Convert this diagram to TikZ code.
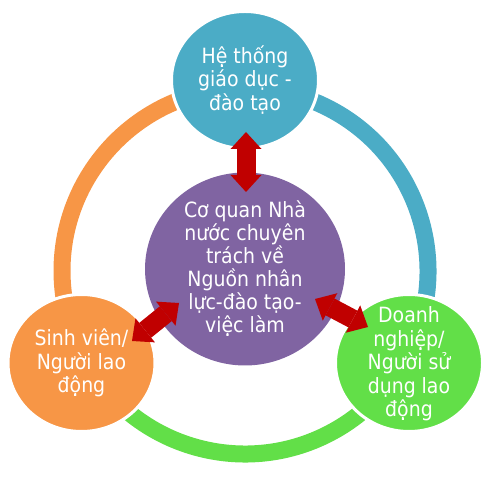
\documentclass[tikz,border=0pt]{standalone}
\usepackage{fontspec}
\setmainfont{DejaVu Sans Condensed}
\usetikzlibrary{shapes.geometric,arrows.meta,calc}
\definecolor{cteal}{HTML}{4BACC6}
\definecolor{corange}{HTML}{F79646}
\definecolor{cgreen}{HTML}{62DF48}
\definecolor{cpurple}{HTML}{8064A2}
\definecolor{cred}{HTML}{C00000}
\begin{document}
\begin{tikzpicture}[x=1pt,y=1pt,
  bub/.style={ellipse, draw=white, line width=3pt, inner sep=0pt, minimum width=147pt, minimum height=137pt},
  txt/.style={text=white, align=center, font=\fontsize{21}{23.5}\selectfont, inner sep=0pt},
  ringarc/.style={line width=17pt},
  bigarrow/.style={draw=cred, line width=19pt,
    {Triangle[width=31pt,length=17pt,line width=0pt]}-{Triangle[width=31pt,length=17pt,line width=0pt]}}]
\useasboundingbox (0,0) rectangle (500,476);
\coordinate (ringc) at (245,205);
\draw[ringarc, corange] ($(ringc)+(90:183)$) arc[start angle=90, end angle=209.4, radius=183];
\draw[ringarc, cgreen] ($(ringc)+(209.4:183)$) arc[start angle=209.4, end angle=330.6, radius=183];
\draw[ringarc, cteal] ($(ringc)+(330.6:183)$) arc[start angle=330.6, end angle=450, radius=183];
\node[bub, fill=cteal] (top) at (245,396) {};
\node[bub, fill=corange] (left) at (81.5,113) {};
\node[bub, fill=cgreen] (right) at (409,113) {};
\node[ellipse, fill=cpurple, inner sep=0pt, minimum width=200pt, minimum height=193pt] (mid) at (245,207) {};
\node[txt] (topT) at (top) {Hệ thống\\giáo dục -\\đào tạo};
\node[txt] (leftT) at (left) {Sinh viên/\\Người lao\\động};
\node[txt] (rightT) at ([yshift=-1pt]right) {Doanh\\nghiệp/\\Người sử\\dụng lao\\động};
\node[txt, font=\fontsize{21}{23}\selectfont] (midT) at (mid) {Cơ quan Nhà\\nước chuyên\\trách về\\Nguồn nhân\\lực-đào tạo-\\việc làm};
\coordinate (va) at (246,344);
\coordinate (vb) at (246,284);
\coordinate (la) at (179,173);
\coordinate (lb) at (132,135);
\coordinate (ra) at (315,177);
\coordinate (rb) at (368,149);
\draw[bigarrow] (vb) -- (va);
\draw[bigarrow] (la) -- (lb);
\draw[bigarrow] (ra) -- (rb);
\end{tikzpicture}
\end{document}
